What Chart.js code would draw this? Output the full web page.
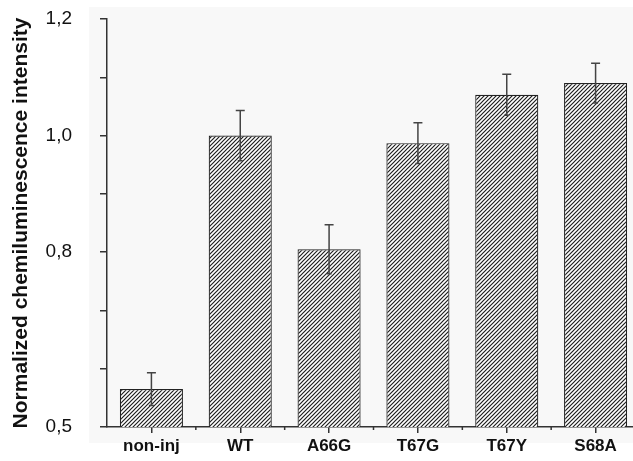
<!DOCTYPE html>
<html>
<head>
<meta charset="utf-8">
<script src="https://cdn.jsdelivr.net/npm/chart.js@4/dist/chart.umd.min.js"></script>
<style>
  html, body { margin: 0; padding: 0; background: #fff; overflow: hidden; }
  #wrap { width: 645px; height: 461px; }
</style>
</head>
<body>
<div id="wrap"><canvas id="chart" width="645" height="461"></canvas></div>
<script>
// data
const categories = ['non-inj', 'WT', 'A66G', 'T67G', 'T67Y', 'S68A'];
const means = [0.565, 1.0, 0.805, 0.987, 1.07, 1.09];
const errors = [0.028, 0.043, 0.042, 0.035, 0.035, 0.034];
const yLabelled = [0.5, 0.8, 1.0, 1.2];

// diagonal hatch fill for the bars
function hatchPattern() {
    const s = 4;
    const c = document.createElement('canvas');
    c.width = s; c.height = s;
    const g = c.getContext('2d');
    g.fillStyle = '#fff';
    g.fillRect(0, 0, s, s);
    g.strokeStyle = '#1e1e1e';
    g.lineWidth = 1.2;
    g.beginPath();
    g.moveTo(0, s); g.lineTo(s, 0);
    g.moveTo(-1, 1); g.lineTo(1, -1);
    g.moveTo(s - 1, s + 1); g.lineTo(s + 1, s - 1);
    g.stroke();
    return g.createPattern(c, 'repeat');
}

// faint grey panel behind the plot
const panelBg = {
    id: 'panelBg',
    beforeDraw(chart) {
        const ctx = chart.ctx;
        ctx.save();
        ctx.fillStyle = '#f8f8f8';
        ctx.fillRect(89, 7, chart.width - 89, 436);
        ctx.restore();
    }
};

// error bars + minor x ticks
const extras = {
    id: 'extras',
    afterDatasetsDraw(chart) {
        const ctx = chart.ctx;
        const y = chart.scales.y;
        const x = chart.scales.x;
        const meta = chart.getDatasetMeta(0);
        ctx.save();
        ctx.strokeStyle = '#444';
        ctx.lineWidth = 1.5;
        meta.data.forEach((bar, i) => {
            const top = y.getPixelForValue(means[i] + errors[i]);
            const bot = y.getPixelForValue(means[i] - errors[i]);
            ctx.beginPath();
            ctx.moveTo(bar.x, top); ctx.lineTo(bar.x, bot);
            ctx.moveTo(bar.x - 4.5, top); ctx.lineTo(bar.x + 4.5, top);
            ctx.moveTo(bar.x - 2.5, bot); ctx.lineTo(bar.x + 2.5, bot);
            ctx.stroke();
        });
        // minor ticks between categories
        ctx.strokeStyle = '#333';
        ctx.lineWidth = 1.5;
        const base = y.getPixelForValue(0.5);
        for (let i = 0; i < categories.length - 1; i++) {
            const px = (x.getPixelForTick(i) + x.getPixelForTick(i + 1)) / 2;
            ctx.beginPath();
            ctx.moveTo(px, base); ctx.lineTo(px, base + 3);
            ctx.stroke();
        }
        ctx.restore();
    }
};

new Chart(document.getElementById('chart'), {
    type: 'bar',
    data: {
        labels: categories,
        datasets: [{
            data: means,
            backgroundColor: hatchPattern(),
            borderColor: '#222',
            borderWidth: 1.2,
            barPercentage: 0.71,
            categoryPercentage: 1
        }]
    },
    options: {
        responsive: false,
        animation: false,
        devicePixelRatio: 1,
        layout: { padding: { top: 0, right: 5, left: 0, bottom: 0 } },
        plugins: { legend: { display: false }, tooltip: { enabled: false } },
        scales: {
            x: {
                offset: true,
                grid: { display: true, offset: false, drawOnChartArea: false, tickLength: 6, color: '#333', lineWidth: 1.5 },
                border: { display: true, color: '#333', width: 1.5 },
                ticks: { color: '#111', padding: 3, maxRotation: 0, autoSkip: false,
                    font: { family: 'Liberation Sans, Arial, sans-serif', size: 17, weight: 'bold' } },
                afterFit(scale) { scale.height = 34; }
            },
            y: {
                min: 0.5,
                max: 1.2,
                grid: { drawOnChartArea: false, tickLength: 7, color: '#333', lineWidth: 1.5 },
                border: { display: true, color: '#333', width: 1.5 },
                ticks: {
                    stepSize: 0.1,
                    padding: 28,
                    color: '#111',
                    font: { family: 'Liberation Sans, Arial, sans-serif', size: 19 },
                    callback(v) {
                        const r = Math.round(v * 10) / 10;
                        return yLabelled.includes(r) ? r.toFixed(1).replace('.', ',') : '';
                    }
                },
                title: {
                    display: true,
                    text: 'Normalized chemiluminescence intensity',
                    color: '#111',
                    padding: { top: 9, bottom: 0 },
                    font: { family: 'Liberation Sans, Arial, sans-serif', size: 21, weight: 'bold' }
                },
                afterFit(scale) {
                    scale.width = 107;
                    scale.paddingTop = 19;
                    scale.paddingBottom = 0;
                }
            }
        }
    },
    plugins: [panelBg, extras]
});
</script>
</body>
</html>
